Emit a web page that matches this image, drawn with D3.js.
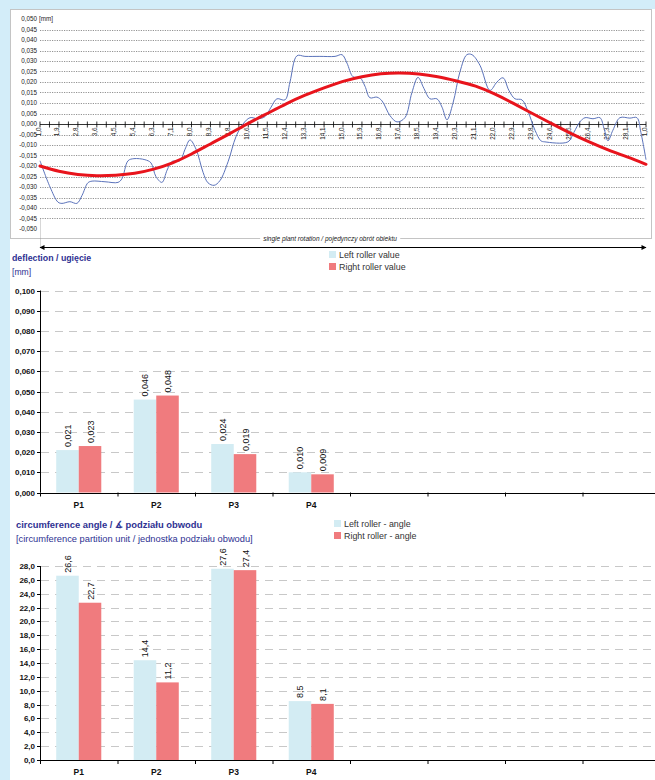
<!DOCTYPE html>
<html>
<head>
<meta charset="utf-8">
<script src="https://cdn.jsdelivr.net/npm/d3@7"></script>
<style>
  body { margin: 0; background: #fff; }
  text { font-family: "Liberation Sans", Arial, sans-serif; }
</style>
</head>
<body>
<div id="chart"></div>
<script>
// top chart: rotation positions (tick labels) and readings
const rotLabels = ["1,0","1,9","2,8","3,6","4,5","5,4","6,3","7,1","8,0","8,9","9,8","10,6","11,5","12,4","13,3","14,1","15,0","15,9","16,8","17,6","18,5","19,4","20,3","21,1","22,0","22,9","23,8","24,6","25,5","26,4","27,3","28,1","1,0"];

// measured profile: [position index, deflection mm]
const measured = [
  [0,-0.0175],[0.53,-0.030],[0.95,-0.0372],[1.16,-0.0378],[1.58,-0.037],[1.95,-0.0378],
  [2.22,-0.034],[2.53,-0.028],[2.75,-0.0272],[3.43,-0.0275],[4.12,-0.0278],[4.33,-0.026],
  [4.65,-0.0175],[4.96,-0.0165],[5.54,-0.017],[5.86,-0.0185],[6.12,-0.025],[6.44,-0.0278],
  [6.71,-0.022],[6.97,-0.0178],[7.39,-0.0175],[7.66,-0.012],[7.92,-0.0076],[8.24,-0.012],
  [8.61,-0.023],[8.87,-0.028],[9.19,-0.0292],[9.5,-0.027],[9.93,-0.018],[10.35,-0.006],
  [10.72,0.000],[11.09,0.003],[11.51,0.0025],[11.88,0.0035],[12.2,0.008],[12.51,0.012],
  [12.94,0.0115],[13.2,0.020],[13.57,0.0325],[13.99,0.0322],[14.78,0.0322],[15.58,0.0322],
  [15.95,0.033],[16.21,0.029],[16.53,0.0225],[16.9,0.022],[17.16,0.018],[17.42,0.0125],
  [17.79,0.0128],[18.06,0.011],[18.48,0.004],[18.85,0.001],[19.27,0.003],[19.64,0.015],
  [19.96,0.0222],[20.27,0.017],[20.59,0.012],[20.96,0.012],[21.23,0.008],[21.49,0.002],
  [21.81,0.010],[22.18,0.025],[22.54,0.033],[22.81,0.033],[23.23,0.028],[23.76,0.016],
  [24.13,0.020],[24.45,0.022],[24.76,0.016],[25.08,0.012],[25.45,0.0115],[25.77,0.006],
  [26.14,-0.003],[26.45,-0.008],[26.66,-0.0085],[27.88,-0.0085],[28.19,-0.004],[28.51,0.001],
  [28.78,0.003],[29.2,0.0025],[29.57,0.003],[29.78,-0.002],[29.99,-0.008],[30.25,-0.003],
  [30.62,0.003],[31.15,0.0028],[31.52,0.003],[31.73,-0.004],[32,-0.017]
];

// fitted run-out, one value per labelled position
const fitted = [-0.020,-0.0225,-0.0240,-0.0246,-0.0244,-0.0235,-0.0215,-0.0185,-0.0143,-0.0095,
  -0.0047,0.0003,0.0050,0.0096,0.0137,0.0172,0.0203,0.0225,0.0239,0.0243,0.0238,0.0225,0.0205,
  0.0180,0.0143,0.0098,0.0050,0.0003,-0.0043,-0.0085,-0.0123,-0.0157,-0.0192];

const topTicks = [0.05,0.045,0.04,0.035,0.03,0.025,0.02,0.015,0.01,0.005,0,-0.005,-0.01,-0.015,-0.02,-0.025,-0.03,-0.035,-0.04,-0.045,-0.05];

// bar charts
const points = ["P1","P2","P3","P4"];
const emptySlots = 4;
const deflLeft = [0.021, 0.046, 0.024, 0.010];
const deflRight = [0.023, 0.048, 0.019, 0.009];
const angleLeft = [26.6, 14.4, 27.6, 8.5];
const angleRight = [22.7, 11.2, 27.4, 8.1];

const W = 655, H = 780;
const BG = "#d3edf9", NAVY = "#2e3192";
const C_LEFT = "#d3ecf3", C_RIGHT = "#f07b7e";

const loc = d3.formatLocale({decimal: ",", thousands: " ", grouping: [3], currency: ["", ""], minus: "-"});
const f3 = loc.format(".3f"), f1 = loc.format(".1f");

const svg = d3.select("#chart").append("svg")
    .attr("width", W)
    .attr("height", H);

svg.append("rect").attr("width", W).attr("height", H).attr("fill", "#fff");
svg.append("rect").attr("width", W).attr("height", 9).attr("fill", BG);
svg.append("rect").attr("width", 10).attr("height", H).attr("fill", BG);

// ---------- top chart ----------
const panel = svg.append("g");
panel.append("rect")
    .attr("x", 10.5).attr("y", 9.5)
    .attr("width", 641).attr("height", 229)
    .attr("fill", "#fff").attr("stroke", "#c4c4c4");

const xt = d3.scaleLinear().domain([0, rotLabels.length - 1]).range([40, 646]);
const yt = d3.scaleLinear().domain([-0.05, 0.05]).range([229, 19]);

panel.selectAll("line.grid")
    .data(topTicks.filter(d => Math.abs(d) > 1e-9 && Math.abs(d) < 0.049))
    .join("line")
    .attr("class", "grid")
    .attr("x1", 40).attr("x2", 645)
    .attr("y1", d => Math.round(yt(d)) + 0.5)
    .attr("y2", d => Math.round(yt(d)) + 0.5)
    .attr("stroke", "#777").attr("stroke-width", 0.8)
    .attr("stroke-dasharray", "1.2,1.2");

panel.selectAll("text.ylab")
    .data(topTicks)
    .join("text")
    .attr("class", "ylab")
    .attr("x", 37).attr("y", d => yt(d) + 2.2)
    .attr("text-anchor", "end")
    .attr("font-size", 6.3)
    .attr("fill", "#222")
    .text(d => f3(d));

panel.append("text")
    .attr("x", 39).attr("y", 21.2)
    .attr("font-size", 6.3).attr("fill", "#222")
    .text("[mm]");

const y0 = Math.round(yt(0)) + 0.5;
panel.append("line")
    .attr("x1", 40).attr("x2", 646)
    .attr("y1", y0).attr("y2", y0)
    .attr("stroke", "#000").attr("stroke-width", 0.8);

panel.selectAll("line.xtick")
    .data(d3.range(0, rotLabels.length - 0.5, 0.5))
    .join("line")
    .attr("class", "xtick")
    .attr("x1", d => xt(d)).attr("x2", d => xt(d))
    .attr("y1", y0 - 3).attr("y2", y0 + 3)
    .attr("stroke", "#000").attr("stroke-width", 0.8);

panel.selectAll("text.xlab")
    .data(rotLabels)
    .join("text")
    .attr("class", "xlab")
    .attr("transform", (d, i) => `translate(${xt(i) + 0.5},${y0 + 3}) rotate(-90)`)
    .attr("text-anchor", "end")
    .attr("font-size", 6.3)
    .attr("fill", "#222")
    .text(d => d);

panel.append("path")
    .datum(measured)
    .attr("fill", "none")
    .attr("stroke", "#5a72ba")
    .attr("stroke-width", 1)
    .attr("d", d3.line()
        .x(d => xt(d[0]))
        .y(d => yt(d[1]))
        .curve(d3.curveCatmullRom.alpha(0.5)));

panel.append("path")
    .datum(fitted)
    .attr("fill", "none")
    .attr("stroke", "#e8141c")
    .attr("stroke-width", 3)
    .attr("stroke-linecap", "round")
    .attr("d", d3.line()
        .x((d, i) => xt(i))
        .y(d => yt(d))
        .curve(d3.curveNatural));

// rotation arrow below the panel
const defs = svg.append("defs");
defs.append("marker")
    .attr("id", "ah")
    .attr("viewBox", "0 0 10 10")
    .attr("refX", 9).attr("refY", 5)
    .attr("markerWidth", 7).attr("markerHeight", 5)
    .attr("orient", "auto-start-reverse")
    .attr("markerUnits", "userSpaceOnUse")
    .append("path").attr("d", "M0,0L10,5L0,10Z").attr("fill", "#000");

svg.append("line")
    .attr("x1", 40.5).attr("x2", 40.5)
    .attr("y1", yt(-0.045)).attr("y2", 247)
    .attr("stroke", "#999").attr("stroke-width", 0.8)
    .attr("stroke-dasharray", "1,1");

svg.append("line")
    .attr("x1", 40).attr("x2", 646)
    .attr("y1", 247.5).attr("y2", 247.5)
    .attr("stroke", "#000").attr("stroke-width", 1)
    .attr("marker-start", "url(#ah)")
    .attr("marker-end", "url(#ah)");

const capt = svg.append("text")
    .attr("x", 330).attr("y", 240.5)
    .attr("text-anchor", "middle")
    .attr("font-size", 6.5)
    .attr("font-style", "italic")
    .attr("fill", "#222")
    .text("single plant rotation / pojedynczy obrót obiektu");
const bb = capt.node().getBBox();
svg.insert("rect", () => capt.node())
    .attr("x", bb.x - 3).attr("y", 236).attr("width", bb.width + 6).attr("height", 5)
    .attr("fill", "#fff");

// ---------- bar charts ----------
function barChart(cfg) {
  const g = svg.append("g");
  const slots = points.concat(d3.range(emptySlots).map(i => "empty" + i));
  const x0 = d3.scaleBand().domain(slots).range([40, 660]);
  const x1 = d3.scaleBand().domain(["left", "right"]).range([0, x0.bandwidth()]).paddingOuter(0.72);
  const y = d3.scaleLinear().domain([0, cfg.max]).range([cfg.bottom, cfg.top]);

  g.append("text")
      .attr("x", cfg.titleX).attr("y", cfg.titleY)
      .attr("font-size", cfg.titleSize).attr("font-weight", "bold").attr("fill", NAVY)
      .text(cfg.title);
  g.append("text")
      .attr("x", cfg.titleX).attr("y", cfg.titleY + 14)
      .attr("font-size", cfg.subSize).attr("fill", NAVY)
      .text(cfg.subtitle);

  const leg = g.append("g").attr("transform", `translate(${cfg.legendX},${cfg.legendY})`);
  cfg.legend.forEach((name, i) => {
    leg.append("rect").attr("x", 0).attr("y", i * 12).attr("width", 7).attr("height", 7)
        .attr("fill", i === 0 ? C_LEFT : C_RIGHT);
    leg.append("text").attr("x", 10).attr("y", i * 12 + 7)
        .attr("font-size", 8.9).attr("fill", "#333").text(name);
  });

  const ticks = d3.range(0, cfg.max + cfg.step / 2, cfg.step);
  g.selectAll("line.grid")
      .data(ticks.slice(1))
      .join("line")
      .attr("class", "grid")
      .attr("x1", 41).attr("x2", W)
      .attr("y1", d => Math.round(y(d)) + 0.5).attr("y2", d => Math.round(y(d)) + 0.5)
      .attr("stroke", "#c8c8c8").attr("stroke-width", 1)
      .attr("stroke-dasharray", "8,6");

  g.selectAll("text.ylab")
      .data(ticks)
      .join("text")
      .attr("class", "ylab")
      .attr("x", 35).attr("y", d => y(d) + 3)
      .attr("text-anchor", "end")
      .attr("font-size", 8).attr("font-weight", "bold").attr("fill", "#111")
      .text(d => cfg.fmt(d));

  g.selectAll("line.ytick")
      .data(ticks)
      .join("line")
      .attr("class", "ytick")
      .attr("x1", 37).attr("x2", 40.5)
      .attr("y1", d => Math.round(y(d)) + 0.5).attr("y2", d => Math.round(y(d)) + 0.5)
      .attr("stroke", "#000");

  const rows = points.map((p, i) => ({p, vals: [["left", cfg.left[i]], ["right", cfg.right[i]]]}));
  const grp = g.selectAll("g.grp")
      .data(rows)
      .join("g")
      .attr("class", "grp")
      .attr("transform", d => `translate(${x0(d.p)},0)`);

  grp.selectAll("rect")
      .data(d => d.vals)
      .join("rect")
      .attr("x", d => x1(d[0]))
      .attr("width", x1.bandwidth())
      .attr("y", d => y(d[1]))
      .attr("height", d => y(0) - y(d[1]))
      .attr("fill", d => d[0] === "left" ? C_LEFT : C_RIGHT);

  grp.selectAll("text")
      .data(d => d.vals)
      .join("text")
      .attr("transform", d => `translate(${x1(d[0]) + x1.bandwidth() / 2 + 3.5},${y(d[1]) - 3}) rotate(-90)`)
      .attr("font-size", 9).attr("fill", "#111")
      .text(d => cfg.fmt(d[1]));

  g.append("line")
      .attr("x1", 40.5).attr("x2", 40.5)
      .attr("y1", y(cfg.max)).attr("y2", y(0))
      .attr("stroke", "#000");
  g.append("line")
      .attr("x1", 40).attr("x2", W)
      .attr("y1", Math.round(y(0)) + 0.5).attr("y2", Math.round(y(0)) + 0.5)
      .attr("stroke", "#000");

  g.selectAll("line.xtick")
      .data(slots)
      .join("line")
      .attr("class", "xtick")
      .attr("x1", d => x0(d) + 0.5).attr("x2", d => x0(d) + 0.5)
      .attr("y1", y(0)).attr("y2", y(0) + 4)
      .attr("stroke", "#000");

  g.selectAll("text.xlab")
      .data(points)
      .join("text")
      .attr("class", "xlab")
      .attr("x", d => x0(d) + x0.bandwidth() / 2)
      .attr("y", y(0) + 15)
      .attr("text-anchor", "middle")
      .attr("font-size", 8.5).attr("font-weight", "bold").attr("fill", "#111")
      .text(d => d);
}

barChart({
  title: "deflection / ugięcie", subtitle: "[mm]",
  titleX: 12, titleY: 261, titleSize: 8.8, subSize: 8.6,
  legend: ["Left roller value", "Right roller value"], legendX: 329, legendY: 251,
  max: 0.1, step: 0.01, top: 290.5, bottom: 492.5, fmt: f3,
  left: deflLeft, right: deflRight
});

barChart({
  title: "circumference angle / ∡ podziału obwodu",
  subtitle: "[circumference partition unit / jednostka podziału obwodu]",
  titleX: 16, titleY: 528, titleSize: 9.4, subSize: 9.3,
  legend: ["Left roller - angle", "Right roller - angle"], legendX: 334, legendY: 520,
  max: 28, step: 2, top: 566, bottom: 760, fmt: f1,
  left: angleLeft, right: angleRight
});
</script>
</body>
</html>
